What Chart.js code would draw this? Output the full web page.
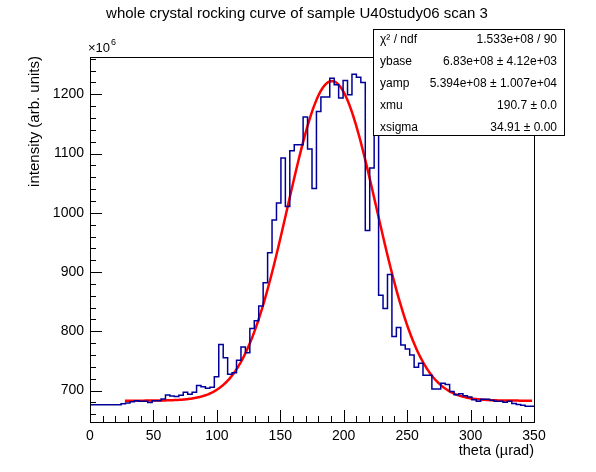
<!DOCTYPE html>
<html>
<head>
<meta charset="utf-8">
<script src="https://cdn.jsdelivr.net/npm/chart.js@4/dist/chart.umd.min.js"></script>
<style>
  body { margin: 0; background: #fff; }
  canvas { display: block; }
</style>
</head>
<body>
<canvas id="rockingChart" width="596" height="472"></canvas>
<script>
// histogram: 100 bins of 3.5 urad from 0 to 350, values in units of 1e6
const binWidth = 3.5;
const counts = [
    672, 676, 676, 676, 676, 676, 676, 676, 677.7, 679,
    681, 683, 682, 682, 680, 682.7, 682.7, 686, 692.7, 691,
    690, 692.2, 697.2, 693.9, 697.2, 708.4, 706.7, 703.9, 705.6, 723.5,
    777.7, 755.3, 727.4, 730.2, 751.4, 773.7, 763.7, 804.7, 818, 842.8,
    882, 932.6, 988, 1016.8, 1092.6, 1010.6, 1104.9, 1115, 1115, 1161.6,
    1107.7, 1040.9, 1171, 1195.3, 1195.3, 1227.3, 1216, 1193.6, 1223.2, 1199.2,
    1234, 1229, 1219.9, 970.2, 1075.8, 1190, 860.8, 838.4, 896, 791.4,
    806.6, 776.8, 770, 760, 739.2, 746, 726.1, 726.1, 702.5, 702.5,
    712.6, 710.3, 698.5, 692.8, 694.5, 691.1, 689.4, 684.4, 682.2, 685.5,
    685.5, 683.8, 682.2, 682.2, 680.5, 682.2, 678.3, 676.6, 675.4, 673.7
];

// gaussian fit as printed in the stats box: ybase, yamp, xmu, xsigma (y in 1e6)
const fitParams = [683, 539.4, 190.7, 34.91];
const fitRange = [27.5, 348.5];

const xTicks = [0, 50, 100, 150, 200, 250, 300, 350];
const yTicks = [700, 800, 900, 1000, 1100, 1200];

const statLabels = ['χ² / ndf', 'ybase', 'yamp', 'xmu', 'xsigma'];
const statValues = ['1.533e+08 / 90', '6.83e+08 ± 4.12e+03', '5.394e+08 ± 1.007e+04', '190.7 ± 0.0', '34.91 ± 0.00'];

const FONT = '"Liberation Sans", Arial, Helvetica, sans-serif';

// stepped outline: one point per left bin edge, plus the closing right edge
const histPoints = counts.map((v, i) => ({ x: i * binWidth, y: v }));
histPoints.push({ x: counts.length * binWidth, y: counts[counts.length - 1] });

const fitPoints = [];
for (let x = fitRange[0]; x <= fitRange[1] + 1e-9; x += 1) {
    const [base, amp, mu, sigma] = fitParams;
    fitPoints.push({ x: x, y: base + amp * Math.exp(-0.5 * Math.pow((x - mu) / sigma, 2)) });
}

// ROOT-like frame, inner ticks, titles and stats box
const rootDecor = {
    id: 'rootDecor',
    afterDraw(chart) {
        const ctx = chart.ctx;
        const area = chart.chartArea;
        const xs = chart.scales.x;
        const ys = chart.scales.y;
        ctx.save();
        ctx.strokeStyle = '#000';
        ctx.lineWidth = 1;
        ctx.strokeRect(Math.round(area.left) + 0.5, Math.round(area.top) + 0.5,
            Math.round(area.right - area.left), Math.round(area.bottom - area.top));

        ctx.beginPath();
        for (let v = 0; v <= 350; v += 10) {
            const px = Math.round(xs.getPixelForValue(v)) + 0.5;
            const len = v % 50 === 0 ? 12 : 6;
            ctx.moveTo(px, area.bottom);
            ctx.lineTo(px, area.bottom - len);
        }
        for (let v = 660; v <= 1260; v += 20) {
            const py = Math.round(ys.getPixelForValue(v)) + 0.5;
            const len = v % 100 === 0 ? 12 : 6;
            ctx.moveTo(area.left, py);
            ctx.lineTo(area.left + len, py);
        }
        ctx.stroke();

        ctx.fillStyle = '#000';
        ctx.textBaseline = 'middle';

        // title
        ctx.font = '15px ' + FONT;
        ctx.textAlign = 'center';
        ctx.fillText('whole crystal rocking curve of sample U40study06 scan 3', 297, 14);

        // y axis title
        ctx.save();
        ctx.translate(35, area.top - 1);
        ctx.rotate(-Math.PI / 2);
        ctx.textAlign = 'right';
        ctx.fillText('intensity (arb. units)', 0, 0);
        ctx.restore();

        // x axis title
        ctx.font = '14.5px ' + FONT;
        ctx.textAlign = 'right';
        ctx.fillText('theta (µrad)', area.right, 451);

        // exponent label
        ctx.textAlign = 'left';
        ctx.font = '13px ' + FONT;
        ctx.fillText('×10', area.left - 2, 48);
        ctx.font = '9px ' + FONT;
        ctx.fillText('6', area.left + 21, 43);

        // stats box
        const bx = 373.5, by = 29.5, bw = 191, bh = 106;
        ctx.fillStyle = '#fff';
        ctx.fillRect(bx, by, bw, bh);
        ctx.strokeRect(bx, by, bw, bh);
        ctx.fillStyle = '#000';
        ctx.font = '12px ' + FONT;
        statLabels.forEach((lab, i) => {
            const ty = 40 + i * 22;
            ctx.textAlign = 'left';
            ctx.fillText(lab, 380, ty);
            ctx.textAlign = 'right';
            ctx.fillText(statValues[i], 557, ty);
        });
        ctx.restore();
    }
};

const ctx = document.getElementById('rockingChart').getContext('2d');
new Chart(ctx, {
    type: 'line',
    data: {
        datasets: [{
            label: 'histogram',
            data: histPoints,
            borderColor: '#000099',
            borderWidth: 1.5,
            pointRadius: 0,
            stepped: 'after',
            fill: false
        }, {
            label: 'fit',
            data: fitPoints,
            borderColor: '#ff0000',
            borderWidth: 2.5,
            pointRadius: 0,
            tension: 0,
            fill: false
        }]
    },
    options: {
        responsive: false,
        animation: false,
        events: [],
        layout: {
            padding: { left: 0, top: 57, right: 62, bottom: 0 }
        },
        plugins: {
            legend: { display: false },
            title: { display: false },
            tooltip: { enabled: false }
        },
        scales: {
            x: {
                type: 'linear',
                min: 0,
                max: 350,
                grid: { display: false, drawTicks: false },
                border: { display: false },
                afterBuildTicks: axis => { axis.ticks = xTicks.map(v => ({ value: v })); },
                afterFit: axis => { axis.height = 50; },
                ticks: {
                    padding: 6,
                    maxRotation: 0,
                    color: '#000',
                    font: { family: FONT, size: 14 },
                    callback: v => String(v)
                }
            },
            y: {
                type: 'linear',
                min: 647,
                max: 1263,
                grid: { display: false, drawTicks: false },
                border: { display: false },
                afterBuildTicks: axis => { axis.ticks = yTicks.map(v => ({ value: v })); },
                afterFit: axis => { axis.width = 90; },
                ticks: {
                    padding: 6,
                    color: '#000',
                    font: { family: FONT, size: 14 },
                    callback: v => String(v)
                }
            }
        }
    },
    plugins: [rootDecor]
});
</script>
</body>
</html>
